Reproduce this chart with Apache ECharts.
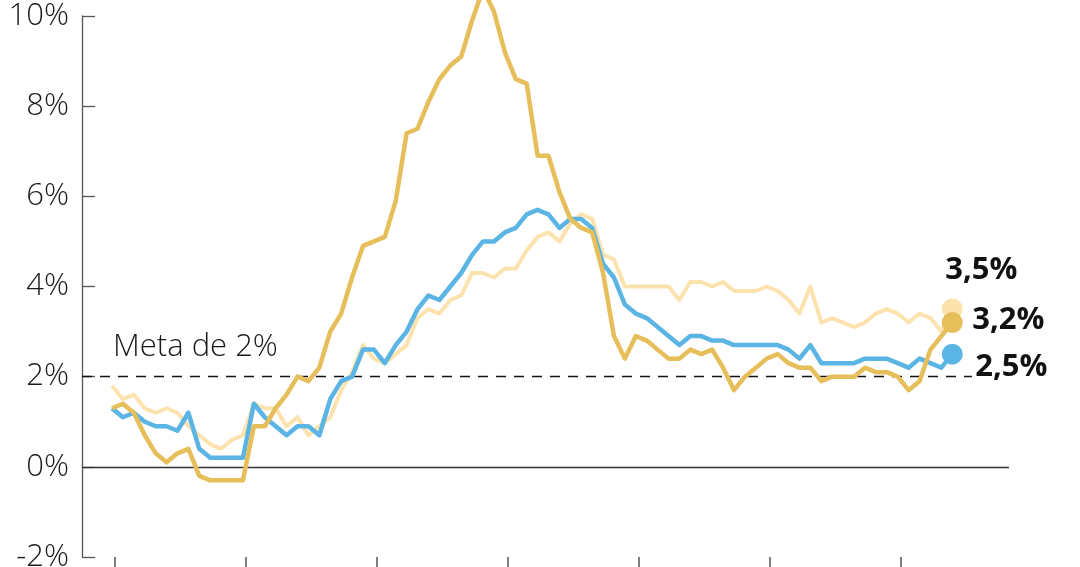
<!DOCTYPE html>
<html>
<head>
<meta charset="utf-8">
<script src="https://cdn.jsdelivr.net/npm/echarts@6/dist/echarts.min.js"></script>
<style>
html,body{margin:0;padding:0;background:#fff;}
#chart{width:1080px;height:567px;}
</style>
</head>
<body>
<div id="chart"></div>
<script>
// Monthly data, Dec 2019 (index 0) to May 2026 (index 77)
const tickYears = ['2020', '2021', '2022', '2023', '2024', '2025', '2026'];
const tickPositions = [0.25, 12.25, 24.25, 36.25, 48.25, 60.25, 72.25];
const yTicks = [-2, 0, 2, 4, 6, 8, 10];
const targetValue = 2;
const targetLabel = 'Meta de 2%';

const headline = [
  1.3, 1.4, 1.2, 0.7, 0.3, 0.1, 0.3, 0.4, -0.2, -0.3, -0.3, -0.3, -0.3,
  0.9, 0.9, 1.3, 1.6, 2.0, 1.9, 2.2, 3.0, 3.4, 4.2, 4.9, 5.0,
  5.1, 5.9, 7.4, 7.5, 8.1, 8.6, 8.9, 9.1, 9.9, 10.6, 10.1, 9.2,
  8.6, 8.5, 6.9, 6.9, 6.1, 5.5, 5.3, 5.2, 4.3, 2.9, 2.4, 2.9,
  2.8, 2.6, 2.4, 2.4, 2.6, 2.5, 2.6, 2.2, 1.7, 2.0, 2.2, 2.4,
  2.5, 2.3, 2.2, 2.2, 1.9, 2.0, 2.0, 2.0, 2.2, 2.1, 2.1, 2.0,
  1.7, 1.9, 2.6, 2.9, 3.2
];
const core = [
  1.3, 1.1, 1.2, 1.0, 0.9, 0.9, 0.8, 1.2, 0.4, 0.2, 0.2, 0.2, 0.2,
  1.4, 1.1, 0.9, 0.7, 0.9, 0.9, 0.7, 1.5, 1.9, 2.0, 2.6, 2.6,
  2.3, 2.7, 3.0, 3.5, 3.8, 3.7, 4.0, 4.3, 4.7, 5.0, 5.0, 5.2,
  5.3, 5.6, 5.7, 5.6, 5.3, 5.5, 5.5, 5.3, 4.5, 4.2, 3.6, 3.4,
  3.3, 3.1, 2.9, 2.7, 2.9, 2.9, 2.8, 2.8, 2.7, 2.7, 2.7, 2.7,
  2.7, 2.6, 2.4, 2.7, 2.3, 2.3, 2.3, 2.3, 2.4, 2.4, 2.4, 2.3,
  2.2, 2.4, 2.3, 2.2, 2.5
];
const services = [
  1.8, 1.5, 1.6, 1.3, 1.2, 1.3, 1.2, 0.9, 0.7, 0.5, 0.4, 0.6, 0.7,
  1.4, 1.3, 1.3, 0.9, 1.1, 0.7, 0.9, 1.1, 1.7, 2.1, 2.7, 2.4,
  2.3, 2.5, 2.7, 3.3, 3.5, 3.4, 3.7, 3.8, 4.3, 4.3, 4.2, 4.4,
  4.4, 4.8, 5.1, 5.2, 5.0, 5.4, 5.6, 5.5, 4.7, 4.6, 4.0, 4.0,
  4.0, 4.0, 4.0, 3.7, 4.1, 4.1, 4.0, 4.1, 3.9, 3.9, 3.9, 4.0,
  3.9, 3.7, 3.4, 4.0, 3.2, 3.3, 3.2, 3.1, 3.2, 3.4, 3.5, 3.4,
  3.2, 3.4, 3.3, 3.0, 3.5
];

const chart = echarts.init(document.getElementById('chart'), null, {renderer: 'canvas'});
const toPairs = arr => arr.map((v, i) => [i, v]);
const fmtPct = p => p.value[1].toFixed(1).replace('.', ',') + '%';
const lastIdx = headline.length - 1;
const dot = (v, p) => (p.dataIndex === lastIdx ? 21 : 0);
const FONT = "'Open Sans', 'Noto Sans', sans-serif";

function lineSeries(name, data, color, width, z, labelOffset) {
  return {
    name: name,
    type: 'line',
    data: toPairs(data),
    z: z,
    clip: false,
    showSymbol: true,
    showAllSymbol: true,
    symbol: 'circle',
    symbolSize: dot,
    itemStyle: {color: color},
    lineStyle: {color: color, width: width, join: 'round'},
    emphasis: {disabled: true},
    endLabel: {
      show: true,
      formatter: fmtPct,
      distance: 0,
      offset: labelOffset,
      color: '#111',
      fontSize: 31,
      fontWeight: 700,
      fontFamily: FONT
    }
  };
}

const option = {
  animation: false,
  backgroundColor: '#fff',
  grid: {left: 82, right: 71, top: 16, bottom: 10, containLabel: false, outerBoundsMode: 'none'},
  xAxis: {
    type: 'value',
    min: -2.75,
    max: 82.2,
    axisLine: {show: false, onZero: false},
    splitLine: {show: false},
    axisTick: {
      show: true,
      length: 12,
      customValues: tickPositions,
      lineStyle: {color: '#555', width: 1.5}
    },
    axisLabel: {
      show: true,
      customValues: tickPositions,
      formatter: (v) => tickYears[tickPositions.indexOf(v)] || '',
      fontSize: 26,
      color: '#222',
      fontFamily: FONT,
      margin: 16
    }
  },
  yAxis: {
    type: 'value',
    min: yTicks[0],
    max: yTicks[yTicks.length - 1],
    interval: 2,
    splitLine: {show: false},
    axisLine: {show: true, onZero: false, lineStyle: {color: '#555', width: 1.3}},
    axisTick: {show: true, inside: true, length: 13, lineStyle: {color: '#555', width: 1.3}},
    axisLabel: {
      formatter: v => v + '%',
      fontSize: 31,
      fontWeight: 300,
      color: '#1a1a1a',
      fontFamily: FONT,
      margin: 13
    }
  },
  series: [
    Object.assign(lineSeries('Serviços', services, '#FCE3AE', 4, 2, [-7, -39]), {
      markLine: {
        silent: true,
        symbol: 'none',
        z: 1,
        data: [
          {yAxis: 0, lineStyle: {color: '#333', width: 1.3, type: 'solid'}, label: {show: false}},
          [
            {coord: [-2.75, targetValue], lineStyle: {color: '#111', width: 1.3, type: [10, 8]},
             label: {show: true, position: 'insideStartTop', formatter: targetLabel, distance: [31, 14],
                     fontSize: 31, fontWeight: 300, color: '#1a1a1a', fontFamily: FONT}},
            {coord: [78.8, targetValue]}
          ]
        ]
      }
    }),
    lineSeries('Núcleo', core, '#5AB4E4', 4.5, 3, [23, 13]),
    lineSeries('Geral', headline, '#E6BE5A', 4.5, 4, [20, -2])
  ]
};
chart.setOption(option);
</script>
</body>
</html>
